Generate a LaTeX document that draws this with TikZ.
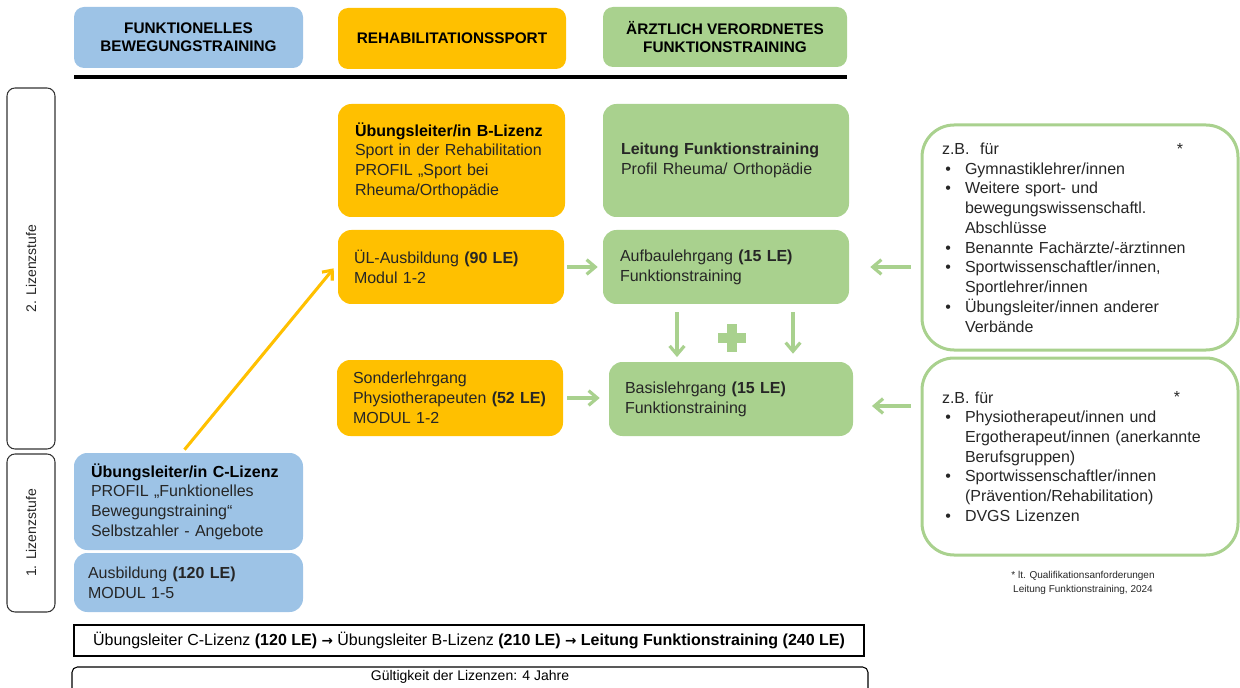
\documentclass[tikz,border=0pt]{standalone}
\usepackage{fontspec}
\setmainfont{Liberation Sans}
\newfontfamily\arrowfont[Scale=0.85]{DejaVu Sans}
\usetikzlibrary{arrows.meta,calc}
\definecolor{cblue}{HTML}{9DC3E6}
\definecolor{corange}{HTML}{FFC000}
\definecolor{cgreen}{HTML}{A9D18E}
\definecolor{ctext}{HTML}{262626}
\newcommand\bul{\hspace*{2.5pt}\makebox[14.75pt][l]{•}}
\newcommand\ind{\hspace*{17.25pt}}
\newcommand\rarr{{\arrowfont\bfseries →}}
\begin{document}
\begin{tikzpicture}[x=0.75pt,y=-0.75pt,
  body/.style={font=\fontsize{12}{14.8}\selectfont, text=ctext},
  head/.style={font=\fontsize{11.5}{13.5}\selectfont\bfseries, text=black, align=center, rounded corners=7.5pt, inner sep=0pt},
  cbox/.style={body, align=left, rounded corners=10pt, inner ysep=0pt},
  rbox/.style={body, align=left, rounded corners=24pt, draw=cgreen, line width=2.25pt, fill=white, inner ysep=0pt},
  sidebox/.style={draw=black!80, line width=0.8pt, rounded corners=6pt, rotate=90, inner sep=0pt, font=\fontsize{10.5}{12}\selectfont, text=ctext},
  garrow/.style={draw=cgreen, line width=2.4pt, -{Straight Barb[length=6.5pt,width=11pt,line width=2.4pt]}},
  yarrow/.style={draw=corange, line width=2.3pt, -{Straight Barb[length=6pt,width=10pt,line width=2.3pt]}}
]
\useasboundingbox (0,0) rectangle (1240,688);

% headers
\node[head, fill=cblue, minimum width=171.75pt, minimum height=45.75pt] (h1) at (188.5,37.5) {FUNKTIONELLES\\BEWEGUNGSTRAINING};
\node[head, fill=corange, minimum width=171pt, minimum height=45.75pt] (h2) at (452,38.5) {REHABILITATIONSSPORT};
\node[head, fill=cgreen, minimum width=183pt, minimum height=45pt] (h3) at (725,37) {ÄRZTLICH VERORDNETES\\FUNKTIONSTRAINING};
\coordinate (lineL) at (74,77);
\coordinate (lineR) at (847,77);
\draw[line width=2.4pt, black] (lineL) -- (lineR);

% side boxes
\node[sidebox, minimum width=270.75pt, minimum height=36pt] (l2) at (31,268.5) {2. Lizenzstufe};
\node[sidebox, minimum width=118.5pt, minimum height=36pt] (l1) at (31,533) {1. Lizenzstufe};

% orange column
\node[cbox, fill=corange, inner xsep=12.75pt, text width=144.75pt, minimum width=170.25pt, minimum height=84.75pt] (B) at (451.5,160.5)
 {\textbf{\color{black}Übungsleiter/in B-Lizenz}\\Sport in der Rehabilitation\\PROFIL „Sport bei\\Rheuma/Orthopädie};
\node[cbox, fill=corange, inner xsep=12pt, text width=145.5pt, minimum width=169.5pt, minimum height=55.5pt] (UL) at (451,267)
 {ÜL-Ausbildung \textbf{(90 LE)}\\Modul 1-2};
\node[cbox, fill=corange, inner xsep=12pt, text width=145.5pt, minimum width=169.5pt, minimum height=57pt] (SO) at (450,398)
 {Sonderlehrgang\\Physiotherapeuten \textbf{(52 LE)}\\MODUL 1-2};

% green column
\node[cbox, fill=cgreen, inner xsep=13.5pt, text width=157.5pt, minimum width=184.5pt, minimum height=84.75pt] (LF) at (726,160.5)
 {\textbf{Leitung Funktionstraining}\\Profil Rheuma/ Orthopädie};
\node[cbox, fill=cgreen, inner xsep=12.75pt, text width=159pt, minimum width=184.5pt, minimum height=55.5pt] (AU) at (726,267)
 {Aufbaulehrgang \textbf{(15 LE)}\\Funktionstraining};
\node[cbox, fill=cgreen, inner xsep=12pt, text width=159pt, minimum width=183pt, minimum height=55.5pt] (BA) at (731,399)
 {Basislehrgang \textbf{(15 LE)}\\Funktionstraining};

% blue column
\node[cbox, fill=cblue, inner xsep=12.75pt, text width=146.25pt, minimum width=171.75pt, minimum height=72.75pt] (C) at (188.5,501.5)
 {\textbf{\color{black}Übungsleiter/in C-Lizenz}\\PROFIL „Funktionelles\\Bewegungstraining“\\Selbstzahler - Angebote};
\node[cbox, fill=cblue, inner xsep=10.5pt, text width=150.75pt, minimum width=171.75pt, minimum height=44.25pt] (AB) at (188.5,582.5)
 {Ausbildung \textbf{(120 LE)}\\MODUL 1-5};

% right boxes
\node[rbox, inner xsep=15pt, text width=207pt, minimum width=237pt, minimum height=168.75pt] (R1) at (1080,237.5)
 {z.B.\ \ für\\\bul Gymnastiklehrer/innen\\\bul Weitere sport- und\\\ind bewegungswissenschaftl.\\\ind Abschlüsse\\\bul Benannte Fachärzte/-ärztinnen\\\bul Sportwissenschaftler/innen,\\\ind Sportlehrer/innen\\\bul Übungsleiter/innen anderer\\\ind Verbände};
\node[body, inner sep=0pt] (s1) at (1180,149) {*};
\node[rbox, inner xsep=15pt, text width=207pt, minimum width=237pt, minimum height=147.75pt] (R2) at (1080,456.5)
 {z.B. für\\\bul Physiotherapeut/innen und\\\ind Ergotherapeut/innen (anerkannte\\\ind Berufsgruppen)\\\bul Sportwissenschaftler/innen\\\ind (Prävention/Rehabilitation)\\\bul DVGS Lizenzen};
\node[body, inner sep=0pt] (s2) at (1177,397) {*};
\node[font=\fontsize{7.5}{10.5}\selectfont, text=ctext, align=center, inner sep=0pt] (fn) at (1083,583)
 {* lt. Qualifikationsanforderungen\\Leitung Funktionstraining, 2024};

% bottom boxes
\node[draw=black, line width=0.8pt, minimum width=592.5pt, minimum height=23.25pt, inner sep=0pt, body, text=black] (sum) at (469,640.5)
 {Übungsleiter C-Lizenz \textbf{(120 LE)} \rarr{} Übungsleiter B-Lizenz \textbf{(210 LE)} \rarr{} \textbf{Leitung Funktionstraining (240 LE)}};
\node[draw=black, line width=0.8pt, rounded corners=4pt, minimum width=597pt, minimum height=27pt, inner sep=0pt] (val) at (470,685) {};
\node[font=\fontsize{10.5}{12}\selectfont, text=black, inner sep=0pt] (valt) at (470,677) {Gültigkeit der Lizenzen: 4 Jahre};

% plus
\fill[cgreen] (718,333) rectangle (746,343);
\fill[cgreen] (727,324) rectangle (737,352);

% connectors
\draw[yarrow, shorten <=3pt] ([xshift=-4.9pt]C.north) -- ([xshift=-3pt,yshift=-1pt]UL.west);
\draw[garrow, shorten <=2.25pt, shorten >=3.75pt] (UL.east) -- (UL.east -| AU.west);
\draw[garrow, shorten <=3pt, shorten >=6.75pt] (SO.east) -- (SO.east -| BA.west);
\draw[garrow, shorten <=7.5pt, shorten >=15.75pt] (AU.east -| R1.west) -- (AU.east);
\draw[garrow, shorten <=7.5pt, shorten >=14pt] ([yshift=-5.25pt]BA.east -| R2.west) -- ([yshift=-5.25pt]BA.east);
\draw[garrow, shorten <=6pt, shorten >=3.5pt] ([xshift=-36.75pt]AU.south) -- ([xshift=-36.75pt]AU.south |- BA.north);
\draw[garrow, shorten <=6pt, shorten >=6pt] ([xshift=50.25pt]AU.south) -- ([xshift=50.25pt]AU.south |- BA.north);
\end{tikzpicture}
\end{document}
